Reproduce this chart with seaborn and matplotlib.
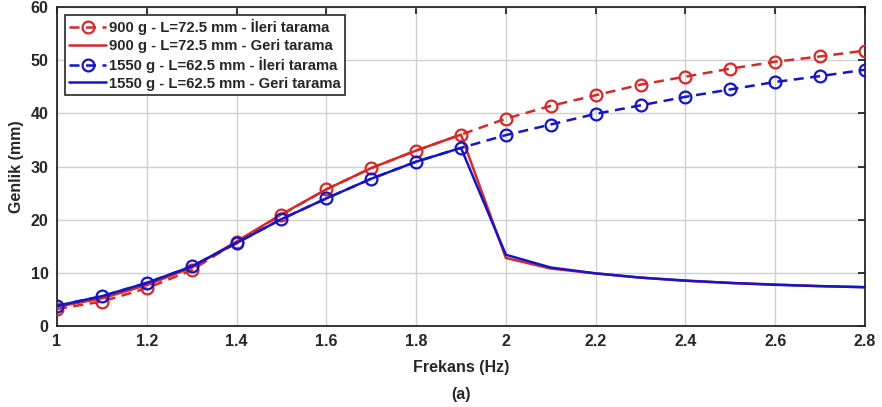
import numpy as np
import pandas as pd
import matplotlib
matplotlib.use("Agg")
import matplotlib.pyplot as plt
import seaborn as sns

# ---- data ----
freq = [1.0, 1.1, 1.2, 1.3, 1.4, 1.5, 1.6, 1.7, 1.8, 1.9,
        2.0, 2.1, 2.2, 2.3, 2.4, 2.5, 2.6, 2.7, 2.8]
red_fwd = [3.2, 4.6, 7.1, 10.5, 15.8, 20.9, 25.7, 29.7, 33.0, 36.0,
           39.0, 41.4, 43.4, 45.4, 46.9, 48.4, 49.7, 50.7, 51.8]
red_bwd = [3.6, 5.2, 7.7, 11.0, 15.9, 21.0, 25.7, 29.7, 33.0, 36.0,
           12.8, 10.8, 9.9, 9.1, 8.5, 8.1, 7.8, 7.5, 7.3]
blue_fwd = [3.8, 5.6, 8.1, 11.2, 15.6, 20.1, 24.0, 27.7, 30.9, 33.5,
            35.9, 37.9, 39.9, 41.5, 43.1, 44.5, 45.9, 47.0, 48.2]
blue_bwd = [3.8, 5.6, 8.1, 11.2, 15.6, 20.1, 24.0, 27.7, 30.9, 33.5,
            13.4, 11.0, 9.9, 9.1, 8.55, 8.1, 7.75, 7.5, 7.3]
labels = ["900 g - L=72.5 mm - İleri tarama",
          "900 g - L=72.5 mm - Geri tarama",
          "1550 g - L=62.5 mm - İleri tarama",
          "1550 g - L=62.5 mm - Geri tarama"]
xticks = [1, 1.2, 1.4, 1.6, 1.8, 2, 2.2, 2.4, 2.6, 2.8]
xticklabels = ["1", "1.2", "1.4", "1.6", "1.8", "2", "2.2", "2.4", "2.6", "2.8"]
yticks = [0, 10, 20, 30, 40, 50, 60]

RED = "#d42a2a"
BLUE = "#1515c4"

sns.set_style("white")
plt.rcParams['font.family'] = ['Liberation Sans', 'DejaVu Sans']
plt.rcParams['font.weight'] = 'bold'

fig = plt.figure(figsize=(8.82, 4.07), dpi=100)
ax = fig.add_axes([0.0646, 0.199, 0.9161, 0.7838])

lw = 1.8
sns.lineplot(x=freq, y=red_fwd, ax=ax, color=RED, linewidth=lw, marker='o',
             markersize=8.5, markerfacecolor='none', markeredgecolor=RED,
             markeredgewidth=1.6, dashes=False, label=labels[0], zorder=3)
ax.lines[-1].set_dashes([4, 2.6])
sns.lineplot(x=freq, y=red_bwd, ax=ax, color=RED, linewidth=lw,
             label=labels[1], zorder=3)
sns.lineplot(x=freq, y=blue_fwd, ax=ax, color=BLUE, linewidth=lw, marker='o',
             markersize=8.5, markerfacecolor='none', markeredgecolor=BLUE,
             markeredgewidth=1.6, dashes=False, label=labels[2], zorder=4)
ax.lines[-1].set_dashes([4, 2.6])
sns.lineplot(x=freq, y=blue_bwd, ax=ax, color=BLUE, linewidth=lw,
             label=labels[3], zorder=4)

ax.set_xlim(1, 2.8)
ax.set_ylim(0, 60)
ax.set_xticks(xticks)
ax.set_xticklabels(xticklabels)
ax.set_yticks(yticks)
ax.grid(True, color='#d0d0d0', linewidth=1.0)
ax.set_axisbelow(True)
for s in ax.spines.values():
    s.set_color('#262626')
    s.set_linewidth(1.3)
    s.set_visible(True)
ax.tick_params(direction='in', length=5, width=1.3, top=True, right=True,
               labelsize=11.5, colors='#262626', pad=6)
for t in ax.get_xticklabels() + ax.get_yticklabels():
    t.set_fontweight('bold')
    t.set_color('#262626')

ax.set_xlabel("Frekans (Hz)", fontsize=11.5, fontweight='bold', color='#262626', labelpad=8)
ax.set_ylabel("Genlik (mm)", fontsize=11.5, fontweight='bold', color='#262626', labelpad=5)
fig.text(0.0646 + 0.9161 / 2, 0.012, "(a)", ha='center', va='bottom',
         fontsize=11.5, fontweight='bold', color='#262626')

leg = ax.legend(loc='upper left', bbox_to_anchor=(0.006, 0.985), frameon=True,
                fancybox=False, edgecolor='#262626', framealpha=1,
                prop={'weight': 'bold', 'size': 10.7}, handlelength=2.5,
                handletextpad=0.15, labelspacing=0.25, borderpad=0.3,
                borderaxespad=0.2)
leg.get_frame().set_linewidth(1.2)
for t in leg.get_texts():
    t.set_color('#262626')

fig.savefig("out.png", dpi=100)
